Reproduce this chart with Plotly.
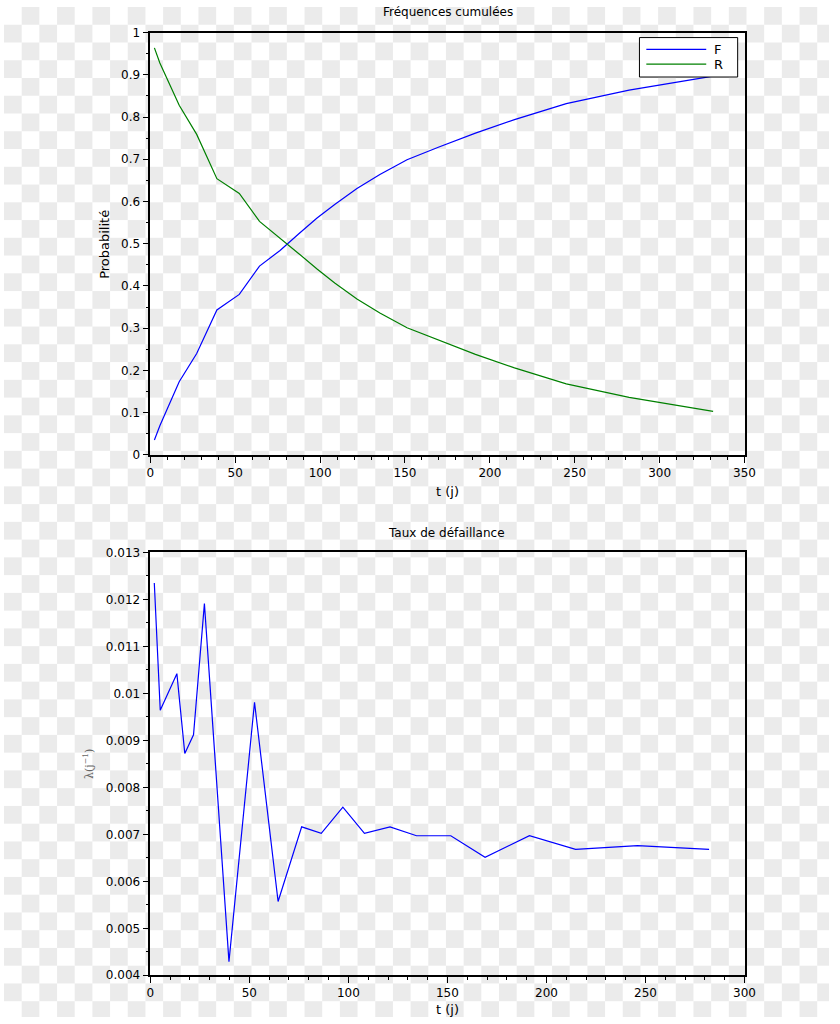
import base64
import plotly.graph_objects as go

# ---- data ----
t_cum = [2.4, 5.6, 17.0, 27.3, 39.2, 52.4, 64.3, 76.4, 87.3, 98.2, 108.6, 121.7,
         135.2, 151.2, 170.0, 191.5, 214.5, 245.0, 282.0, 331.5]
F_vals = [0.035, 0.069, 0.173, 0.240, 0.343, 0.380, 0.447, 0.484, 0.523, 0.561,
          0.593, 0.631, 0.664, 0.699, 0.729, 0.762, 0.794, 0.832, 0.864, 0.897]
R_vals = [0.964, 0.928, 0.828, 0.759, 0.654, 0.619, 0.553, 0.514, 0.477, 0.440,
          0.407, 0.369, 0.336, 0.301, 0.271, 0.238, 0.206, 0.168, 0.136, 0.103]

t_haz = [2.0, 5.0, 13.4, 17.4, 21.8, 27.3, 39.7, 52.6, 64.5, 76.4, 86.3, 97.2,
         108.1, 121.0, 134.4, 151.7, 169.0, 191.4, 214.7, 246.0, 282.1]
lam_vals = [0.01235, 0.00964, 0.01042, 0.00872, 0.00912, 0.01191, 0.00429,
            0.00981, 0.00557, 0.00716, 0.00702, 0.00758, 0.00702, 0.00716,
            0.00697, 0.00697, 0.00651, 0.00697, 0.00668, 0.00676, 0.00668]

lam_tickvals = [0.004, 0.005, 0.006, 0.007, 0.008, 0.009, 0.010, 0.011, 0.012, 0.013]
lam_ticktext = ["0.004", "0.005", "0.006", "0.007", "0.008", "0.009", "0.01",
                "0.011", "0.012", "0.013"]

legend_names = ["F", "R"]
legend_colors = ["#0000ff", "#008000"]

W, H = 840, 1024

# checkerboard background (transparency placeholder)
svg = (f'<svg xmlns="http://www.w3.org/2000/svg" width="{W}" height="{H}" '
       f'viewBox="0 0 {W} {H}" preserveAspectRatio="none">'
       '<defs><pattern id="c" width="36" height="36" patternUnits="userSpaceOnUse">'
       '<rect width="36" height="36" fill="#ffffff"/>'
       '<rect x="18" y="0" width="18" height="18" fill="#ebebeb"/>'
       '<rect x="0" y="18" width="18" height="18" fill="#ebebeb"/>'
       '</pattern></defs>'
       f'<rect width="{W}" height="{H}" fill="url(#c)"/></svg>')
bg_src = "data:image/svg+xml;base64," + base64.b64encode(svg.encode()).decode()

fig = go.Figure()
fig.add_trace(go.Scatter(x=t_cum, y=F_vals, mode="lines", name=legend_names[0],
                         line=dict(color=legend_colors[0], width=1.2),
                         xaxis="x", yaxis="y", hoverinfo="skip"))
fig.add_trace(go.Scatter(x=t_cum, y=R_vals, mode="lines", name=legend_names[1],
                         line=dict(color=legend_colors[1], width=1.2),
                         xaxis="x", yaxis="y", hoverinfo="skip"))
fig.add_trace(go.Scatter(x=t_haz, y=lam_vals, mode="lines",
                         line=dict(color="#0000ff", width=1.2),
                         xaxis="x2", yaxis="y2", hoverinfo="skip"))


def px(x):
    return x / W


def py(y):
    return 1 - y / H


x_dom = [px(149), px(754)]
top_dom = [py(454), py(26)]
bot_dom = [py(981.7), py(553)]

tickfont = dict(family="DejaVu Sans", size=12, color="black")
common = dict(showline=True, linecolor="black", linewidth=1.5, mirror=True,
              ticks="outside", ticklen=6, tickwidth=1, tickcolor="black",
              showgrid=False, zeroline=False, tickfont=tickfont)

# manual legend box (Scilab style, long line samples)
shapes = [dict(type="rect", xref="paper", yref="paper",
               x0=px(647), x1=px(747), y0=py(71), y1=py(31),
               line=dict(color="black", width=1), fillcolor="white", layer="above")]
annotations = []
for i, (nm, col) in enumerate(zip(legend_names, legend_colors)):
    yy = 43 + 15 * i
    shapes.append(dict(type="line", xref="paper", yref="paper",
                       x0=px(654), x1=px(715), y0=py(yy), y1=py(yy),
                       line=dict(color=col, width=1.2), layer="above"))
    annotations.append(dict(text=nm, x=px(721), y=py(yy), xref="paper", yref="paper",
                            showarrow=False, xanchor="left", yanchor="middle",
                            font=dict(size=13)))

annotations += [
    dict(text="Fréquences cumulées", x=px(452), y=py(5), xref="paper",
         yref="paper", showarrow=False, xanchor="center", yanchor="middle",
         font=dict(size=12)),
    dict(text="Taux de défaillance", x=px(451), y=py(533), xref="paper",
         yref="paper", showarrow=False, xanchor="center", yanchor="middle",
         font=dict(size=12)),
    dict(text="t (j)", x=px(452), y=py(491), xref="paper", yref="paper",
         showarrow=False, xanchor="center", yanchor="middle", font=dict(size=13)),
    dict(text="t (j)", x=px(452), y=py(1016), xref="paper", yref="paper",
         showarrow=False, xanchor="center", yanchor="middle", font=dict(size=13)),
    dict(text="Probabilité", x=px(103), y=py(241), xref="paper",
         yref="paper", showarrow=False, xanchor="center", yanchor="middle",
         textangle=-90, font=dict(size=13)),
    dict(text="λ(j<sup>−1</sup>)", x=px(86), y=py(767), xref="paper",
         yref="paper", showarrow=False, xanchor="center", yanchor="middle",
         textangle=-90, font=dict(family="DejaVu Serif", size=11, color="#666666")),
]

fig.update_layout(
    width=W, height=H,
    autosize=False,
    margin=dict(l=0, r=0, t=0, b=0, pad=0),
    paper_bgcolor="white",
    plot_bgcolor="rgba(0,0,0,0)",
    font=dict(family="DejaVu Sans", size=12, color="black"),
    showlegend=False,
    hovermode=False,
    images=[dict(source=bg_src, xref="paper", yref="paper", x=0, y=1,
                 sizex=1, sizey=1, sizing="stretch", xanchor="left",
                 yanchor="top", layer="below")],
    xaxis=dict(domain=x_dom, anchor="y", range=[0, 350], dtick=50,
               minor=dict(dtick=10, ticks="outside", ticklen=3, tickcolor="black"),
               **common),
    yaxis=dict(domain=top_dom, anchor="x", range=[0, 1], dtick=0.1,
               minor=dict(dtick=0.05, ticks="outside", ticklen=3, tickcolor="black"),
               **common),
    xaxis2=dict(domain=x_dom, anchor="y2", range=[0, 300], dtick=50,
                minor=dict(dtick=10, ticks="outside", ticklen=3, tickcolor="black"),
                **common),
    yaxis2=dict(domain=bot_dom, anchor="x2", range=[0.004, 0.013],
                tickmode="array", tickvals=lam_tickvals, ticktext=lam_ticktext,
                minor=dict(dtick=0.0005, ticks="outside", ticklen=3, tickcolor="black"),
                **common),
    shapes=shapes,
    annotations=annotations,
)

fig.write_html(
    "out.html",
    config={"displayModeBar": False, "responsive": False},
    post_script=("var gd=document.getElementById('{plot_id}');"
                 "gd.style.position='fixed';gd.style.left='0px';gd.style.top='0px';"
                 "document.documentElement.style.margin='0';"
                 "document.documentElement.style.overflow='hidden';"
                 "document.body.style.margin='0';"
                 "document.body.style.overflow='hidden';"),
)
